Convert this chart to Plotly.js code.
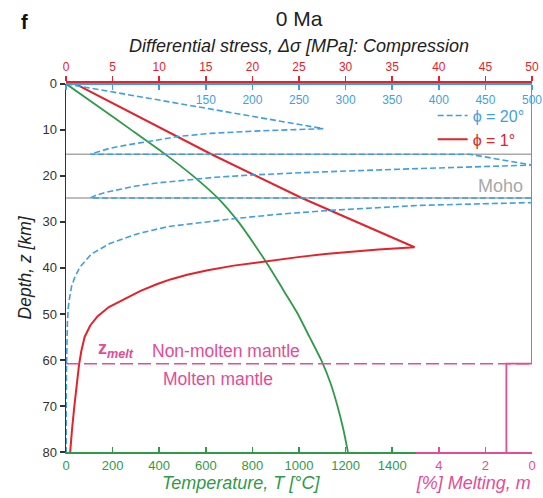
<!DOCTYPE html>
<html>
<head>
<meta charset="utf-8">
<script src="https://cdn.plot.ly/plotly-3.0.1.min.js"></script>
<style>html,body{margin:0;padding:0;background:#fff;}</style>
</head>
<body>
<div id="chart" style="width:543px;height:498px;"></div>
<script>
// ---- data ----
// Differential stress, phi = 20 deg (MPa, blue axis 0-500)
var phi20Depth  = [0, 9.74, 10.2, 10.76, 11.4, 12.0, 12.6, 13.3, 14.0, 14.7, 15.3, 15.3, 17.65, 18.4, 18.8, 19.2, 19.8, 20.3, 21.0, 21.6, 22.2, 22.8, 23.6, 24.3, 24.8, 24.8, 25.7, 26.4, 27.5, 28.3, 29.3, 30.2, 31.0, 32.5, 34.7, 37.0, 39.8, 42.0, 44.0, 46.5, 48.5, 52.0, 55.0, 62.0, 70.0, 80.0];
var phi20Stress = [0, 276, 210, 155, 122, 103, 87, 65, 47, 35, 26, 433, 500, 380, 318, 265, 200, 160, 125, 95, 75, 62, 42, 31, 26, 700, 500, 380, 283, 230, 180, 140, 110, 78, 47, 27, 15, 9.5, 6, 3.8, 2.5, 1.5, 1.0, 0.5, 0.3, 0.2];
// Differential stress, phi = 1 deg (MPa, red axis 0-50)
var phi1Depth  = [0, 15.3, 24.8, 35.5, 36.0, 36.5, 37.0, 37.6, 38.6, 39.5, 40.5, 41.5, 42.5, 43.5, 45.0, 46.7, 48.5, 50.5, 52.5, 55.0, 58.0, 61.0, 65.0, 70.0, 75.0, 80.0];
var phi1Stress = [1.0, 15.6, 25.3, 37.4, 33.5, 30.5, 27.8, 25.1, 21.2, 18.0, 15.2, 13.0, 11.2, 9.8, 8.0, 6.3, 4.6, 3.4, 2.6, 2.0, 1.65, 1.4, 1.15, 0.9, 0.65, 0.45];
// Temperature (deg C)
var tempDepth = [0, 5, 10, 15, 20, 25, 30, 35, 40, 45, 50, 55, 60, 65, 70, 75, 80];
var tempValue = [0, 140, 280, 418, 545, 655, 740, 810, 875, 935, 995, 1045, 1095, 1135, 1165, 1190, 1210];
// Melting (%)
var zMelt = 60.8;
var meltDepth = [0, zMelt, zMelt, 80];
var meltValue = [0, 0, 1.1, 1.1];
// Layer boundaries (km)
var crustBoundary = 15.3;
var mohoDepth = 24.8;
// Tick labels
var depthTicks = [0, 10, 20, 30, 40, 50, 60, 70, 80];
var tempTicks = [0, 200, 400, 600, 800, 1000, 1200, 1400];
var meltTicks = [4, 2, 0];
var redTicks = [0, 5, 10, 15, 20, 25, 30, 35, 40, 45, 50];
var blueTicks = [0, 50, 100, 150, 200, 250, 300, 350, 400, 450, 500];
var blueTickText = ['', '', '', '150', '200', '250', '300', '350', '400', '450', '500'];

// ---- styles ----
var RED = '#e3222b', BLUE = '#3f9fe2', GREEN = '#2f9a48', PINK = '#e44c94', GRAY = '#a9a9a9', INK = '#333';

var traces = [
  {x: phi20Stress, y: phi20Depth, xaxis: 'x4', yaxis: 'y', type: 'scatter', mode: 'lines',
   name: '<span style="color:' + BLUE + '">ϕ = 20°</span>',
   line: {color: BLUE, width: 1.6, dash: '6px,3px'}},
  {x: phi1Stress, y: phi1Depth, xaxis: 'x3', yaxis: 'y', type: 'scatter', mode: 'lines',
   name: '<span style="color:' + RED + '">ϕ = 1°</span>',
   line: {color: RED, width: 2}},
  {x: tempValue, y: tempDepth, xaxis: 'x', yaxis: 'y', type: 'scatter', mode: 'lines',
   name: 'Temperature', showlegend: false, line: {color: GREEN, width: 1.8, shape: 'spline', smoothing: 0.6}},
  {x: meltValue, y: meltDepth, xaxis: 'x2', yaxis: 'y', type: 'scatter', mode: 'lines',
   name: 'Melting', showlegend: false, line: {color: PINK, width: 1.8}}
];

var axBase = {showgrid: false, zeroline: false, showline: true, ticklen: 5, tickwidth: 1.5};

var layout = {
  width: 543, height: 498,
  margin: {l: 66, r: 11, t: 82, b: 46},
  paper_bgcolor: '#ffffff', plot_bgcolor: 'rgba(0,0,0,0)',
  font: {family: 'Liberation Sans, Arial, sans-serif', size: 12, color: INK},
  title: {text: '0 Ma', x: 0.5, xref: 'paper', xanchor: 'center', y: 0.962, yref: 'container', yanchor: 'middle',
          font: {size: 21, color: '#222'}},
  showlegend: true,
  legend: {x: 0.995, xanchor: 'right', y: 0.955, yanchor: 'top', bgcolor: 'rgba(0,0,0,0)',
           font: {size: 16}, tracegroupgap: 0},
  xaxis: Object.assign({}, axBase, {
    domain: [0, 0.75], range: [0, 1500], anchor: 'y', side: 'bottom',
    linecolor: GREEN, linewidth: 2, ticks: 'inside', tickcolor: GREEN,
    tickvals: tempTicks, tickfont: {color: GREEN, size: 13},
    title: {text: 'Temperature, T [°C]', font: {color: GREEN, size: 18, style: 'italic'}, standoff: 4}
  }),
  xaxis2: Object.assign({}, axBase, {
    domain: [0.75, 1], range: [5, 0], anchor: 'y', side: 'bottom',
    linecolor: PINK, linewidth: 2, ticks: 'inside', tickcolor: PINK,
    tickvals: meltTicks, tickfont: {color: PINK, size: 13},
    title: {text: '[%] Melting, m', font: {color: PINK, size: 18, style: 'italic'}, standoff: 4}
  }),
  xaxis3: Object.assign({}, axBase, {
    domain: [0, 1], range: [0, 50], anchor: 'free', position: 1, side: 'top',
    linecolor: RED, linewidth: 2, ticks: 'outside', tickcolor: RED,
    tickvals: redTicks, tickfont: {color: RED, size: 12},
    title: {text: 'Differential stress, Δσ [MPa]: Compression', font: {color: '#222', size: 18, style: 'italic'}, standoff: 2}
  }),
  xaxis4: Object.assign({}, axBase, {
    overlaying: 'x3', range: [0, 500], anchor: 'free', position: 0.995, side: 'bottom',
    linecolor: BLUE, linewidth: 2, ticks: 'outside', tickcolor: BLUE,
    tickvals: blueTicks, ticktext: blueTickText,
    tickfont: {color: BLUE, size: 12}
  }),
  yaxis: Object.assign({}, axBase, {
    domain: [0, 0.995], range: [80, 0], anchor: 'x', side: 'left',
    linecolor: INK, linewidth: 1.5, ticks: 'outside', tickcolor: INK,
    tickvals: depthTicks, tickfont: {color: INK, size: 13},
    title: {text: 'Depth, z [km]', font: {color: '#222', size: 17.5, style: 'italic'}, standoff: 6}
  }),
  yaxis2: Object.assign({}, axBase, {
    overlaying: 'y', range: [80, 0], anchor: 'x3', side: 'right',
    linecolor: INK, linewidth: 1.5, ticks: 'inside', tickcolor: INK,
    tickvals: depthTicks, showticklabels: false
  }),
  shapes: [
    {type: 'line', layer: 'below', xref: 'paper', x0: 0, x1: 1, yref: 'y', y0: crustBoundary, y1: crustBoundary,
     line: {color: GRAY, width: 1.5}},
    {type: 'line', layer: 'below', xref: 'paper', x0: 0, x1: 1, yref: 'y', y0: mohoDepth, y1: mohoDepth,
     line: {color: GRAY, width: 1.5}},
    {type: 'line', layer: 'above', xref: 'paper', x0: 0, x1: 1, yref: 'y', y0: zMelt, y1: zMelt,
     line: {color: PINK, width: 1.5, dash: '13px,5px'}}
  ],
  annotations: [
    {text: '<b>f</b>', xref: 'paper', yref: 'paper', x: -0.1, y: 1.162, xanchor: 'left', yanchor: 'middle',
     showarrow: false, font: {size: 20, color: '#111'}},
    {text: 'Moho', xref: 'paper', yref: 'y', x: 0.985, y: mohoDepth, xanchor: 'right', yanchor: 'bottom', yshift: 0,
     showarrow: false, font: {size: 18, color: GRAY}},
    {text: '<b>z</b><sub><b><i>melt</i></b></sub>', xref: 'paper', yref: 'y', x: 0.065, y: zMelt, xanchor: 'left', yanchor: 'bottom', yshift: 1,
     showarrow: false, font: {size: 18, color: PINK}},
    {text: 'Non-molten mantle', xref: 'paper', yref: 'y', x: 0.343, y: zMelt, xanchor: 'center', yanchor: 'bottom', yshift: 1,
     showarrow: false, font: {size: 17.5, color: PINK}},
    {text: 'Molten mantle', xref: 'paper', yref: 'y', x: 0.326, y: zMelt, xanchor: 'center', yanchor: 'top', yshift: -3,
     showarrow: false, font: {size: 17.5, color: PINK}}
  ]
};

Plotly.newPlot('chart', traces, layout, {displayModeBar: false, staticPlot: true});
</script>
</body>
</html>
